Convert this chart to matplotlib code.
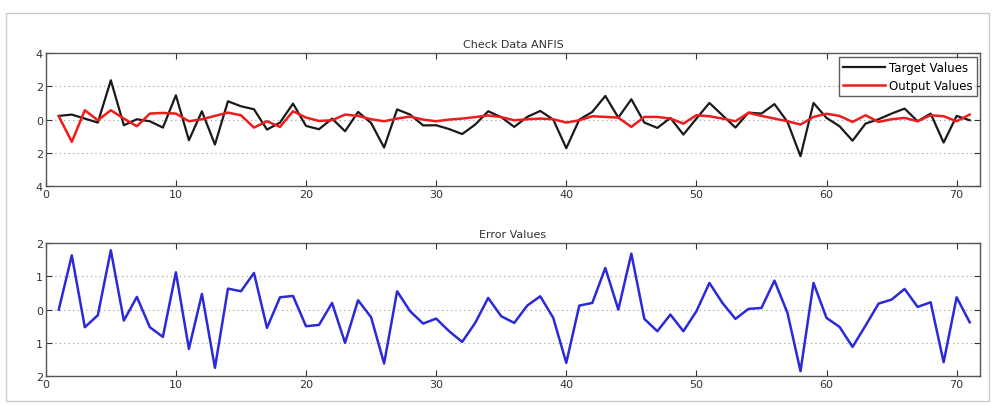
import numpy as np
import matplotlib
matplotlib.use('Agg')
import matplotlib.pyplot as plt

#
# Data (samples 1..71)
idx = np.arange(1, 72)
target = [0.22, 0.3, 0.06, -0.18, 2.36, -0.34, 0.02, -0.1, -0.48, 1.46,
          -1.24, 0.5, -1.5, 1.1, 0.8, 0.62, -0.6, -0.18, 0.96, -0.38,
          -0.58, 0.06, -0.7, 0.46, -0.2, -1.68, 0.61, 0.3, -0.35, -0.34,
          -0.57, -0.87, -0.3, 0.5, 0.15, -0.44, 0.16, 0.52, 0.0, -1.72,
          0.0, 0.46, 1.42, 0.12, 1.22, -0.18, -0.5, 0.1, -0.9, 0.06,
          1.0, 0.26, -0.48, 0.42, 0.36, 0.93, -0.14, -2.2, 1.0, 0.1,
          -0.4, -1.27, -0.24, 0.02, 0.36, 0.66, -0.1, 0.36, -1.38, 0.22, -0.04]
output = [0.2, -1.34, 0.56, -0.04, 0.56, 0.06, -0.4, 0.36, 0.4, 0.36,
          -0.1, 0.02, 0.22, 0.42, 0.26, -0.48, -0.1, -0.44, 0.5, 0.12,
          -0.08, -0.04, 0.3, 0.22, 0.02, -0.1, 0.06, 0.18, 0.0, -0.1,
          0.0, 0.06, 0.15, 0.25, 0.15, -0.04, 0.02, 0.06, 0.02, -0.18,
          -0.04, 0.2, 0.16, 0.12, -0.44, 0.16, 0.16, 0.06, -0.24, 0.26,
          0.2, 0.06, -0.1, 0.4, 0.22, 0.06, -0.1, -0.3, 0.16, 0.35,
          0.22, -0.14, 0.26, -0.14, 0.02, 0.1, -0.1, 0.26, 0.2, -0.1, 0.3]
error = [0.0, 1.63, -0.53, -0.17, 1.78, -0.33, 0.38, -0.53, -0.82, 1.12,
         -1.18, 0.47, -1.75, 0.63, 0.55, 1.10, -0.55, 0.37, 0.41, -0.5,
         -0.46, 0.2, -1.0, 0.28, -0.23, -1.62, 0.55, -0.05, -0.42, -0.27,
         -0.65, -0.97, -0.4, 0.35, -0.2, -0.4, 0.12, 0.4, -0.25, -1.6,
         0.12, 0.2, 1.25, 0.0, 1.68, -0.28, -0.65, -0.15, -0.65, -0.05,
         0.8, 0.2, -0.28, 0.02, 0.05, 0.87, -0.1, -1.85, 0.8, -0.25,
         -0.52, -1.12, -0.48, 0.18, 0.3, 0.62, 0.08, 0.22, -1.58, 0.37, -0.38]
#
# Tick labels as printed (minus signs are missing in the picture)
xticks = [0, 10, 20, 30, 40, 50, 60, 70]
top_yticks = [-4, -2, 0, 2, 4]
top_ylabels = ['4', '2', '0', '2', '4']
bot_yticks = [-2, -1, 0, 1, 2]
bot_ylabels = ['2', '1', '0', '1', '2']

fig = plt.figure(figsize=(9.95, 4.06), dpi=100)
ax1 = fig.add_axes([0.046, 0.539, 0.939, 0.328])
ax2 = fig.add_axes([0.046, 0.071, 0.939, 0.328])


def style(ax, yt, yl):
    ax.set_xlim(0, 71.8)
    ax.set_xticks(xticks)
    ax.set_xticklabels([str(t) for t in xticks])
    ax.set_yticks(yt)
    ax.set_yticklabels(yl)
    ax.set_ylim(yt[0], yt[-1])
    ax.tick_params(direction='in', top=True, right=True, length=4,
                   labelsize=8, colors='#333333', pad=2)
    for s in ax.spines.values():
        s.set_color('#555555')
        s.set_linewidth(1.0)
    for y in yt[1:-1]:
        ax.axhline(y, color='#999999', linestyle=(0, (1, 3)), linewidth=0.8, zorder=0)


#
# Top: target vs output
ax1.plot(idx, target, color='#1a1a1a', linewidth=1.6, label='Target Values')
ax1.plot(idx, output, color='#ee1c1c', linewidth=1.8, label='Output Values')
style(ax1, top_yticks, top_ylabels)
ax1.set_title('Check Data ANFIS', fontsize=8, color='#333333', pad=4)
leg = ax1.legend(loc='upper right', fontsize=8.5, frameon=True, fancybox=False,
                 borderaxespad=0.3, handlelength=3.6, handletextpad=0.3,
                 borderpad=0.35, labelspacing=0.45)
leg.get_frame().set_edgecolor('#333333')
leg.get_frame().set_linewidth(1.0)
#
# Bottom: error
ax2.plot(idx, error, color='#2a2ad8', linewidth=1.8)
style(ax2, bot_yticks, bot_ylabels)
ax2.set_title('Error Values', fontsize=8, color='#333333', pad=4)

fig.patches.append(plt.Rectangle((0.006, 0.01), 0.988, 0.955, transform=fig.transFigure,
                                 fill=False, edgecolor='#cccccc', linewidth=1.0))
fig.savefig('out.png', dpi=100)
